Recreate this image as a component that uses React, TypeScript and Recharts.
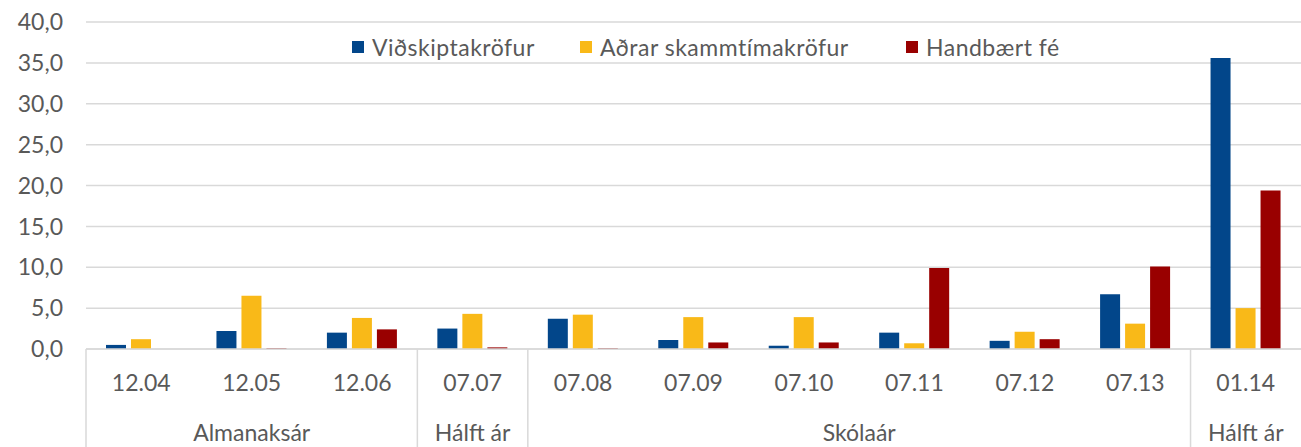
import { BarChart, Bar, XAxis, YAxis, CartesianGrid, Legend } from 'recharts';

const categories = ['12.04', '12.05', '12.06', '07.07', '07.08', '07.09', '07.10', '07.11', '07.12', '07.13', '01.14'];
const groups = [
  'Almanaksár', 'Almanaksár', 'Almanaksár',
  'Hálft ár',
  'Skólaár', 'Skólaár', 'Skólaár', 'Skólaár', 'Skólaár', 'Skólaár',
  'Hálft ár',
];
const vidskiptakrofur = [0.5, 2.2, 2.0, 2.5, 3.7, 1.1, 0.4, 2.0, 1.0, 6.7, 35.6];
const adrarKrofur = [1.2, 6.5, 3.8, 4.3, 4.2, 3.9, 3.9, 0.7, 2.1, 3.1, 5.0];
const handbaertFe = [0.0, 0.1, 2.4, 0.2, 0.1, 0.8, 0.8, 9.9, 1.2, 10.1, 19.4];
const yTicks = [0, 5, 10, 15, 20, 25, 30, 35, 40];

const seriesNames = ['Viðskiptakröfur', 'Aðrar skammtímakröfur', 'Handbært fé'];
const seriesColors = ['#02468a', '#f9b918', '#990000'];

const data = categories.map((cat, i) => ({
  cat,
  group: groups[i],
  a: vidskiptakrofur[i],
  b: adrarKrofur[i],
  c: handbaertFe[i],
}));

const FONT = 'Lato, "Open Sans", sans-serif';
const FS = 23;
const TEXT = '#595959';
const LINE = '#d9d9d9';
const CAT_H = 62;
const GRP_H = 36;
// legend item widths (square + text + gap), like excel spreads them
const legendWidths = [228, 326, 160];

function CatTick(props: any) {
  const { x, y, payload } = props;
  return (
    <text x={x} y={y + 34} dy="0.35em" textAnchor="middle" fill={TEXT} fontSize={FS} fontFamily={FONT}>
      {payload.value}
    </text>
  );
}

function GroupTick(props: any) {
  const { x, y, payload, index } = props;
  const i = index;
  if (i > 0 && groups[i] === groups[i - 1]) return null;
  let n = 1;
  while (i + n < groups.length && groups[i + n] === groups[i]) n++;
  const half = payload.offset || 55.2;
  const left = x - half;
  const cx = left + n * half;
  return (
    <g>
      <line x1={left} x2={left} y1={y - CAT_H} y2={y + GRP_H} stroke={LINE} strokeWidth={1.5} />
      <text x={cx} y={y + 22} dy="0.35em" textAnchor="middle" fill={TEXT} fontSize={FS} fontFamily={FONT}>
        {groups[i]}
      </text>
    </g>
  );
}

function LegendContent() {
  return (
    <div style={{ display: 'flex', alignItems: 'center', fontFamily: FONT, fontSize: FS, color: TEXT, whiteSpace: 'nowrap' }}>
      {seriesNames.map((name, i) => (
        <div key={name} style={{ display: 'flex', alignItems: 'center', width: legendWidths[i], letterSpacing: 0.5 }}>
          <span style={{ width: 12, height: 12, background: seriesColors[i], marginRight: 8, display: 'inline-block' }} />
          <span>{name}</span>
        </div>
      ))}
    </div>
  );
}

export default function App() {
  return (
    <div style={{ position: 'fixed', left: 0, top: 0, width: 1301, height: 447, overflow: 'hidden', background: '#fff' }}>
      <BarChart
        width={1301}
        height={447}
        data={data}
        margin={{ top: 22, right: 0, bottom: 0, left: 0 }}
        barGap={5}
      >
        <CartesianGrid vertical={false} stroke={LINE} strokeWidth={1.5} />
        <XAxis
          dataKey="cat"
          interval={0}
          height={CAT_H}
          tickLine={false}
          tickSize={0}
          tickMargin={0}
          axisLine={{ stroke: LINE, strokeWidth: 1.5 }}
          tick={<CatTick />}
        />
        <XAxis
          xAxisId="grp"
          dataKey="cat"
          interval={0}
          height={GRP_H}
          tickLine={false}
          tickSize={0}
          tickMargin={0}
          axisLine={false}
          tick={<GroupTick />}
        />
        <YAxis
          width={86}
          domain={[0, 40]}
          ticks={yTicks}
          interval={0}
          axisLine={false}
          tickLine={false}
          tickSize={0}
          tickMargin={23}
          tick={{ fill: TEXT, fontSize: FS, fontFamily: FONT }}
          tickFormatter={(v: number) => v.toFixed(1).replace('.', ',')}
        />
        <Legend
          verticalAlign="middle"
          align="center"
          content={<LegendContent />}
          wrapperStyle={{ top: 33, left: 352, width: 'auto' }}
        />
        <Bar dataKey="a" name={seriesNames[0]} fill={seriesColors[0]} barSize={20} isAnimationActive={false} />
        <Bar dataKey="b" name={seriesNames[1]} fill={seriesColors[1]} barSize={20} isAnimationActive={false} />
        <Bar dataKey="c" name={seriesNames[2]} fill={seriesColors[2]} barSize={20} isAnimationActive={false} />
      </BarChart>
    </div>
  );
}
